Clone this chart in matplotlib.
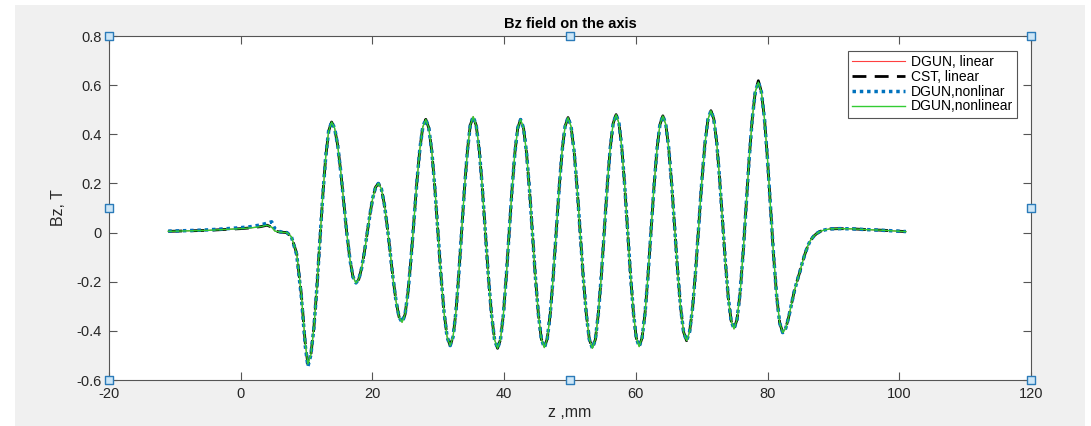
import matplotlib.pyplot as plt
import numpy as np
from matplotlib.patches import Rectangle

plt.rcParams['font.family'] = ['Liberation Sans', 'DejaVu Sans']
plt.rcParams['axes.unicode_minus'] = False

# early part (before the first trough), differs slightly between models
z_early = [-11.0, -8.0, -5.0, -2.0, 0.0, 1.5, 3.0, 4.0, 4.7, 5.2, 6.0, 7.0, 7.7, 8.5, 9.2, 9.8]
bz_early_lin = [0.005, 0.007, 0.009, 0.013, 0.016, 0.019, 0.024, 0.030, 0.022, 0.006,
                0.002, 0.000, -0.017, -0.085, -0.250, -0.450]
bz_early_nl = [0.006, 0.008, 0.011, 0.016, 0.020, 0.024, 0.031, 0.038, 0.044, 0.015,
               0.003, 0.000, -0.017, -0.090, -0.260, -0.460]

# main oscillating part
z_main = [10.2, 10.65, 11.1, 11.55, 12.0, 12.45, 12.9, 13.35,
          13.8, 14.26, 14.73, 15.19, 15.65, 16.11, 16.58, 17.04,
          17.5, 17.93, 18.35, 18.78, 19.2, 19.63, 20.05, 20.48,
          20.9, 21.35, 21.8, 22.25, 22.7, 23.15, 23.6, 24.05,
          24.5, 24.95, 25.4, 25.85, 26.3, 26.75, 27.2, 27.65,
          28.1, 28.56, 29.03, 29.49, 29.95, 30.41, 30.88, 31.34,
          31.8, 32.24, 32.68, 33.11, 33.55, 33.99, 34.43, 34.86,
          35.3, 35.76, 36.23, 36.69, 37.15, 37.61, 38.08, 38.54,
          39.0, 39.44, 39.88, 40.31, 40.75, 41.19, 41.63, 42.06,
          42.5, 42.95, 43.4, 43.85, 44.3, 44.75, 45.2, 45.65,
          46.1, 46.55, 47.0, 47.45, 47.9, 48.35, 48.8, 49.25,
          49.7, 50.16, 50.63, 51.09, 51.55, 52.01, 52.48, 52.94,
          53.4, 53.85, 54.3, 54.75, 55.2, 55.65, 56.1, 56.55,
          57.0, 57.44, 57.88, 58.31, 58.75, 59.19, 59.63, 60.06,
          60.5, 60.95, 61.4, 61.85, 62.3, 62.75, 63.2, 63.65,
          64.1, 64.55, 65.0, 65.45, 65.9, 66.35, 66.8, 67.25,
          67.7, 68.16, 68.63, 69.09, 69.55, 70.01, 70.48, 70.94,
          71.4, 71.84, 72.28, 72.71, 73.15, 73.59, 74.03, 74.46,
          74.9, 75.36, 75.83, 76.29, 76.75, 77.21, 77.68, 78.14,
          78.6, 79.06, 79.53, 79.99, 80.45, 80.91, 81.38, 81.84,
          82.3, 82.75, 83.2, 83.6, 84.0, 84.45, 84.9, 85.3, 85.7, 86.1,
          86.5, 87.0, 87.5, 88.0, 88.7, 89.5, 91.0, 93.0, 95.0, 97.0, 99.0, 101.0]
bz_main = [-0.535, -0.498, -0.391, -0.231, -0.043, 0.146, 0.306, 0.413,
           0.450, 0.425, 0.354, 0.248, 0.123, -0.003, -0.109, -0.180,
           -0.205, -0.190, -0.146, -0.080, -0.003, 0.075, 0.141, 0.185,
           0.200, 0.179, 0.117, 0.026, -0.083, -0.191, -0.282, -0.344,
           -0.365, -0.334, -0.244, -0.110, 0.048, 0.206, 0.340, 0.430,
           0.461, 0.426, 0.326, 0.177, 0.001, -0.176, -0.325, -0.425,
           -0.460, -0.425, -0.323, -0.172, 0.006, 0.184, 0.335, 0.437,
           0.472, 0.436, 0.334, 0.181, 0.001, -0.180, -0.333, -0.435,
           -0.471, -0.436, -0.335, -0.184, -0.006, 0.173, 0.324, 0.425,
           0.460, 0.425, 0.324, 0.174, -0.004, -0.182, -0.332, -0.433,
           -0.468, -0.432, -0.331, -0.179, 0.000, 0.179, 0.331, 0.432,
           0.468, 0.432, 0.330, 0.178, -0.002, -0.181, -0.333, -0.435,
           -0.471, -0.435, -0.332, -0.178, 0.005, 0.187, 0.341, 0.444,
           0.480, 0.444, 0.342, 0.189, 0.008, -0.173, -0.326, -0.428,
           -0.464, -0.428, -0.326, -0.174, 0.006, 0.185, 0.337, 0.439,
           0.475, 0.440, 0.341, 0.193, 0.018, -0.158, -0.306, -0.405,
           -0.440, -0.404, -0.303, -0.151, 0.028, 0.207, 0.359, 0.460,
           0.496, 0.462, 0.366, 0.222, 0.052, -0.118, -0.262, -0.358,
           -0.392, -0.354, -0.245, -0.082, 0.110, 0.302, 0.465, 0.574,
           0.612, 0.573, 0.463, 0.298, 0.103, -0.092, -0.258, -0.368,
           -0.407, -0.390, -0.345, -0.295, -0.245, -0.200, -0.160, -0.120, -0.085, -0.055,
           -0.032, -0.015, -0.003, 0.005, 0.011, 0.015, 0.016, 0.015, 0.012, 0.010, 0.007, 0.004]

z = np.array(z_early + z_main)
bz_dgun_lin = np.array(bz_early_lin + bz_main)
bz_cst_lin = bz_dgun_lin.copy()
bz_cst_lin[len(z_early) + z_main.index(78.6)] = 0.618
bz_dgun_nl = np.array(bz_early_nl + bz_main)
bz_dgun_nl[len(z_early)] = -0.545
bz_dgun_nl2 = bz_dgun_lin.copy()

labels = ['DGUN, linear', 'CST, linear', 'DGUN,nonlinar', 'DGUN,nonlinear']

fig = plt.figure(figsize=(10.91, 4.26), dpi=100, facecolor='white')
fig.patches.append(Rectangle((15 / 1091, 0), 1070 / 1091, 1 - 5 / 426,
                             transform=fig.transFigure, facecolor='#f0f0f0',
                             edgecolor='none', zorder=-10))
ax = fig.add_axes([109 / 1091, 1 - 380 / 426, 922 / 1091, 344 / 426])

ax.plot(z, bz_dgun_lin, color='#ff4040', lw=0.8, label=labels[0])
ax.plot(z, bz_cst_lin, color='black', lw=2.0, dashes=(5, 3), label=labels[1])
ax.plot(z, bz_dgun_nl, color='#0072BD', lw=2.5, linestyle=(0, (1, 1.1)), label=labels[2])
ax.plot(z, bz_dgun_nl2, color='#33cc33', lw=1.0, label=labels[3])

ax.set_xlim(-20, 120)
ax.set_ylim(-0.6, 0.8)
ax.set_xticks(np.arange(-20, 121, 20))
ax.set_yticks(np.round(np.arange(-0.6, 0.81, 0.2), 1))
ax.set_yticklabels(['-0.6', '-0.4', '-0.2', '0', '0.2', '0.4', '0.6', '0.8'])
ax.tick_params(direction='in', top=True, right=True, length=6, width=0.8,
               color='#555555', labelsize=10.5, labelcolor='#262626', pad=5)
for s in ax.spines.values():
    s.set_color('#555555')
    s.set_linewidth(0.8)

ax.set_title('Bz field on the axis', fontsize=10.5, fontweight='bold', pad=6)
ax.set_xlabel('z ,mm', fontsize=11.5, color='#262626', labelpad=3)
ax.set_ylabel('Bz, T', fontsize=11.5, color='#262626', labelpad=8)

leg = ax.legend(loc='upper right', bbox_to_anchor=(0.985, 0.956), fontsize=10,
                handlelength=3.8, handletextpad=0.4, borderpad=0.3, labelspacing=0.05,
                borderaxespad=0, fancybox=False, framealpha=1, edgecolor='#555555')
leg.get_frame().set_linewidth(0.8)

# selection handles around the axes
hx = [0, 0.5, 1, 0, 1, 0, 0.5, 1]
hy = [1, 1, 1, 0.5, 0.5, 0, 0, 0]
ax.scatter(hx, hy, s=30, marker='s', facecolor='#cde6f7', edgecolor='#2b7bb9',
           linewidth=1.0, transform=ax.transAxes, clip_on=False, zorder=10)

fig.savefig('out.png', dpi=100, facecolor=fig.get_facecolor())
